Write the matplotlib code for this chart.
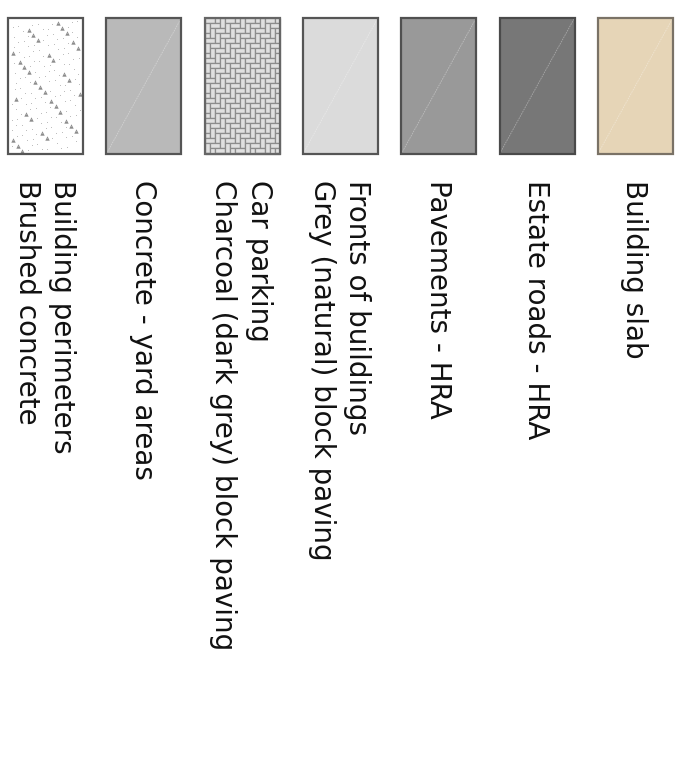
import matplotlib
matplotlib.use("Agg")
import matplotlib.pyplot as plt
from matplotlib.patches import Rectangle
import numpy as np

# legend entries, left to right
labels = [
    "Building perimeters\nBrushed concrete",
    "Concrete - yard areas",
    "Car parking\nCharcoal (dark grey) block paving",
    "Fronts of buildings\nGrey (natural) block paving",
    "Pavements - HRA",
    "Estate roads - HRA",
    "Building slab",
]
fills = ["#ffffff", "#b9b9b9", "#d9d9d9", "#dbdbdb", "#999999", "#777777", "#e6d5b7"]
edges = ["#555555", "#555555", "#666666", "#555555", "#505050", "#4a4a4a", "#7a7266"]
textures = ["speckle", "plain", "herringbone", "plain", "plain", "plain", "plain"]

plt.rcParams['font.family'] = ['DejaVu Sans']

fig = plt.figure(figsize=(6.92, 7.70), dpi=100)
ax = fig.add_axes([0, 0, 1, 1])
ax.set_xlim(0, 692)
ax.set_ylim(770, 0)
ax.axis('off')

x0, pitch, w = 8, 98.3, 75
top, h = 18, 136


def herringbone(ax, x, y, w, h):
    u = 5.0
    for a in range(-40, 40):
        for t in range(-20, 20):
            ox, oy = x + (a + 2 * t) * u, y + (a - 2 * t) * u
            for rx, ry, rw, rh in [(ox, oy, 2 * u, u), (ox, oy + u, u, 2 * u)]:
                # trim the brick to the swatch
                x1, y1 = max(rx, x), max(ry, y)
                x2, y2 = min(rx + rw, x + w), min(ry + rh, y + h)
                if x2 <= x1 or y2 <= y1:
                    continue
                ax.add_patch(Rectangle((x1, y1), x2 - x1, y2 - y1, facecolor="#e0e0e0",
                                       edgecolor="#8c8c8c", lw=0.9, zorder=2))


def speckle(ax, x, y, w, h):
    # flecks placed with an R2 low-discrepancy sequence
    n = np.arange(1, 170)
    px = x + 3 + (0.5 + n * 0.7548776662) % 1 * (w - 6)
    py = y + 3 + (0.5 + n * 0.5698402910) % 1 * (h - 6)
    ax.scatter(px[::5], py[::5], marker='^', s=10, c="#8c8c8c", lw=0, zorder=2)
    ax.scatter(px, py, marker='.', s=1.5, c="#b0b0b0", lw=0, zorder=2)


for i, lab in enumerate(labels):
    left = x0 + i * pitch
    ax.add_patch(Rectangle((left, top), w, h, facecolor=fills[i], edgecolor="none", zorder=1))
    if textures[i] == "herringbone":
        herringbone(ax, left, top, w, h)
    elif textures[i] == "speckle":
        speckle(ax, left, top, w, h)
    else:
        ax.plot([left, left + w], [top + h, top], color="white", lw=0.6,
                alpha=0.35, ls=(0, (2, 1)), zorder=2)
    ax.add_patch(Rectangle((left, top), w, h, facecolor="none",
                           edgecolor=edges[i], lw=1.6, zorder=3))
    ax.text(left + w / 2 - 1, 180, lab, rotation=270, ha='center', va='top',
            fontsize=20, color="#111111", linespacing=1.35, multialignment='left')

fig.savefig("out.png", dpi=100, facecolor="white")
